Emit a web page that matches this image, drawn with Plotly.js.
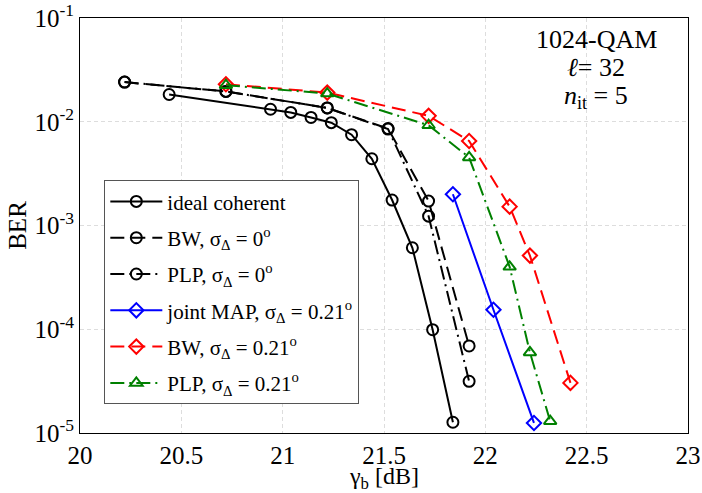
<!DOCTYPE html>
<html>
<head>
<meta charset="utf-8">
<script src="https://cdn.plot.ly/plotly-3.0.1.min.js"></script>
<style>html,body{margin:0;padding:0;background:#fff;}#chart{width:702px;height:493px;}</style>
</head>
<body>
<div id="chart"></div>
<script>
// Data
const idealX = [20.44, 20.94, 21.04, 21.14, 21.24, 21.34, 21.44, 21.54, 21.64, 21.74, 21.84];
const idealY = [0.0183, 0.0132, 0.0123, 0.0110, 0.0098, 0.0075, 0.0044, 0.00176, 6.1e-4, 9.9e-5, 1.27e-5];

const bw0X = [20.22, 20.72, 21.22, 21.52, 21.72, 21.92];
const bw0Y = [0.0241, 0.0196, 0.0136, 0.0086, 1.72e-3, 6.9e-5];

const plp0X = [20.22, 20.72, 21.22, 21.52, 21.72, 21.92];
const plp0Y = [0.0241, 0.0196, 0.0136, 0.0085, 1.23e-3, 3.15e-5];

const mapX = [21.84, 22.04, 22.24];
const mapY = [2.0e-3, 1.54e-4, 1.25e-5];

const bw21X = [20.72, 21.22, 21.72, 21.92, 22.12, 22.22, 22.42];
const bw21Y = [0.0230, 0.0191, 0.0114, 0.00653, 1.52e-3, 5.13e-4, 3.04e-5];

const plp21X = [20.72, 21.22, 21.72, 21.92, 22.12, 22.22, 22.32];
const plp21Y = [0.0225, 0.0187, 0.00925, 0.00453, 4.0e-4, 5.98e-5, 1.3e-5];

const seriesNames = [
  'ideal coherent',
  'BW, σ<sub>Δ</sub> = 0<sup>o</sup>',
  'PLP, σ<sub>Δ</sub> = 0<sup>o</sup>',
  'joint MAP, σ<sub>Δ</sub> = 0.21<sup>o</sup>',
  'BW, σ<sub>Δ</sub> = 0.21<sup>o</sup>',
  'PLP, σ<sub>Δ</sub> = 0.21<sup>o</sup>'
];

const xTickVals = [20, 20.5, 21, 21.5, 22, 22.5, 23];
const xTickText = ['20', '20.5', '21', '21.5', '22', '22.5', '23'];
const yTickVals = [1e-5, 1e-4, 1e-3, 1e-2, 1e-1];
const yTickText = ['10<sup>-5</sup>', '10<sup>-4</sup>', '10<sup>-3</sup>', '10<sup>-2</sup>', '10<sup>-1</sup>'];

function tr(x, y, name, color, dash, symbol, grp) {
  return {
    x: x, y: y, name: name, type: 'scatter', mode: 'lines+markers', legendgroup: grp,
    line: {color: color, width: 2, dash: dash},
    marker: {symbol: symbol, size: 11, color: color, line: {color: color, width: 2}}
  };
}

const data = [
  tr(idealX, idealY, seriesNames[0], '#000000', 'solid', 'circle-open', 'g1'),
  tr(bw0X, bw0Y, seriesNames[1], '#000000', '14px,7px', 'circle-open', 'g2'),
  tr(plp0X, plp0Y, seriesNames[2], '#000000', '14px,5px,2px,5px', 'circle-open', 'g3'),
  tr(mapX, mapY, seriesNames[3], '#0000ff', 'solid', 'diamond-open', 'g4'),
  tr(bw21X, bw21Y, seriesNames[4], '#ff0000', '14px,7px', 'diamond-open', 'g5'),
  tr(plp21X, plp21Y, seriesNames[5], '#008000', '14px,5px,2px,5px', 'triangle-up-open', 'g6')
];

const font = '"Liberation Serif", "Times New Roman", serif';

const layout = {
  width: 702, height: 493,
  margin: {l: 79.5, r: 14, t: 17.5, b: 60},
  paper_bgcolor: '#ffffff', plot_bgcolor: '#ffffff',
  font: {family: font, color: '#000', size: 20},
  showlegend: true,
  legend: {
    x: 0.04, y: 0.609, xanchor: 'left', yanchor: 'top',
    bgcolor: '#ffffff', bordercolor: '#555555', borderwidth: 1,
    tracegroupgap: 6, itemwidth: 52,
    font: {family: font, size: 21, color: '#000'}
  },
  xaxis: {
    range: [20, 23], tickvals: xTickVals, ticktext: xTickText,
    showline: true, linecolor: '#000', linewidth: 1, mirror: true,
    showgrid: true, gridcolor: '#dddddd', griddash: '4px,3px', gridwidth: 1,
    zeroline: false, ticks: '', ticklen: 0,
    tickfont: {family: font, size: 25}
  },
  yaxis: {
    type: 'log', range: [-5, -1], tickvals: yTickVals, ticktext: yTickText,
    showline: true, linecolor: '#000', linewidth: 1, mirror: true,
    showgrid: true, gridcolor: '#dddddd', griddash: '4px,3px', gridwidth: 1,
    zeroline: false, ticks: '', ticklen: 0,
    tickfont: {family: font, size: 25},
    title: {text: 'BER', font: {family: font, size: 25}, standoff: 0}
  },
  annotations: [
    {xref: 'paper', yref: 'paper', x: 0.5, y: -0.108, xanchor: 'center', yanchor: 'middle',
     text: 'γ<sub>b</sub> [dB]', showarrow: false, font: {family: font, size: 24}},
    {xref: 'paper', yref: 'paper', x: 0.849, y: 0.948, xanchor: 'center', yanchor: 'middle',
     text: '1024-QAM', showarrow: false, font: {family: font, size: 26}},
    {xref: 'paper', yref: 'paper', x: 0.849, y: 0.881, xanchor: 'center', yanchor: 'middle',
     text: '<i>ℓ</i>= 32', showarrow: false, font: {family: font, size: 26}},
    {xref: 'paper', yref: 'paper', x: 0.849, y: 0.81, xanchor: 'center', yanchor: 'middle',
     text: '<i>n</i><sub>it</sub> = 5', showarrow: false, font: {family: font, size: 26}}
  ]
};

Plotly.newPlot('chart', data, layout, {displayModeBar: false, staticPlot: true});
</script>
</body>
</html>
